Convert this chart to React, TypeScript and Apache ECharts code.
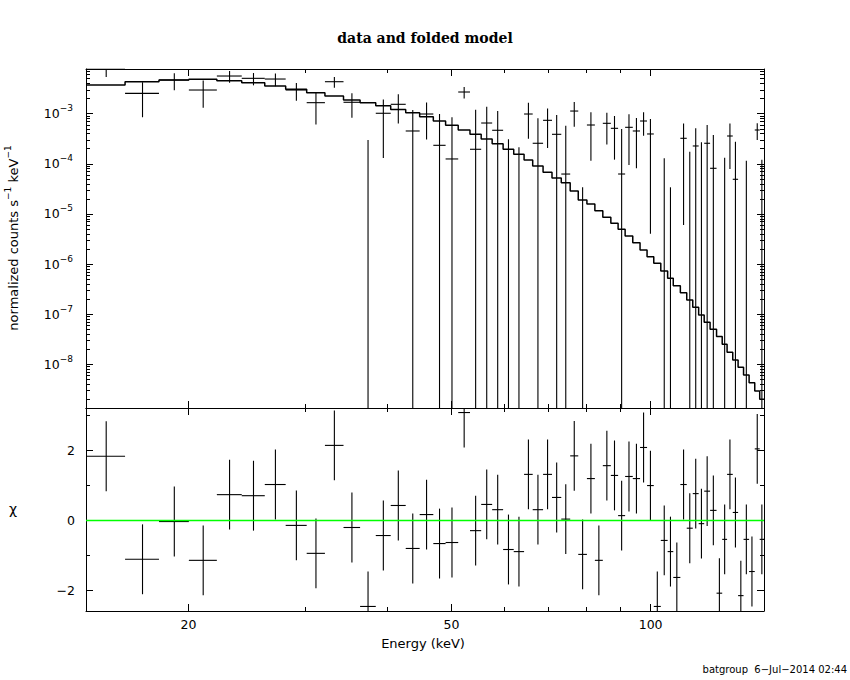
import React, { useEffect, useRef } from "react";
import * as echarts from "echarts";

// ---- data ----
// channel bin edges (keV)
const EDGES = [
  14.0, 16.04, 18.05, 20.03, 22.08, 24.08, 26.09, 28.06, 30.19, 32.17, 34.32, 36.36,
  38.4, 40.45, 42.62, 44.74, 46.92, 48.97, 51.17, 53.31, 55.43, 57.59, 59.83, 62.08,
  64.36, 66.32, 68.76, 70.93, 73.26, 75.57, 77.72, 80.1, 82.35, 84.66, 87.06, 89.29,
  91.5, 93.97, 96.38, 98.76, 101.1, 103.6, 106.1, 108.2, 110.9, 113.4, 115.8, 118.2,
  120.5, 123.0, 125.8, 128.3, 130.5, 133.1, 135.6, 138.2, 140.9, 143.7, 146.2, 148.4,
];
// normalized counts s^-1 keV^-1
const RATE = [
  7.7e-3, 2.55e-3, 4.7e-3, 2.97e-3, 5.65e-3, 5.08e-3, 4.92e-3, 2.97e-3, 1.66e-3, 4.35e-3,
  1.69e-3, -6.33e-4, 1.02e-3, 1.54e-3, 4.52e-4, 9.86e-4, 2.34e-4, 1.25e-4, 2.71e-3, 1.95e-4,
  6.52e-4, 4.67e-4, -3.57e-4, -3.26e-4, 9.86e-4, 2.57e-4, 7.38e-4, 3.88e-4, 6.25e-5, 1.13e-3,
  -4.66e-4, 5.95e-4, -5.36e-4, 6.43e-4, 5.11e-4, 6.26e-5, 5.35e-4, 4.52e-4, 7.15e-4, 3.94e-4,
  -8.6e-4, -1.71e-4, -2.76e-4, -4.9e-4, 3.23e-4, -4.9e-5, 2.27e-4, -2.7e-5, 2.57e-4, 8.14e-5,
  -5.8e-4, -1.55e-4, 3.59e-4, 4.91e-5, -5.6e-4, -1.35e-4, -3.94e-4, 4.73e-4, -1.4e-4,
];
const ERR = [
  2.3e-3, 1.7e-3, 1.75e-3, 1.65e-3, 1.5e-3, 1.4e-3, 1.4e-3, 1.15e-3, 1.05e-3, 1.05e-3,
  8.6e-4, 9.32e-4, 8.9e-4, 9.0e-4, 7.4e-4, 6.8e-4, 7.5e-4, 7.2e-4, 7.0e-4, 1.0e-3,
  7.3e-4, 6.6e-4, 6.65e-4, 5.4e-4, 6.7e-4, 5.5e-4, 5.3e-4, 5.5e-4, 5.13e-4, 5.8e-4,
  5.0e-4, 4.8e-4, 4.8e-4, 4.0e-4, 3.9e-4, 4.3e-4, 4.4e-4, 3.7e-4, 3.5e-4, 3.9e-4,
  3.5e-4, 3.0e-4, 3.1e-4, 3.0e-4, 3.17e-4, 2.24e-4, 2.84e-4, 2.95e-4, 3.4e-4, 2.95e-4,
  2.8e-4, 2.87e-4, 2.8e-4, 2.27e-4, 2.6e-4, 2.5e-4, 2.7e-4, 1.75e-4, 2.6e-4,
];
// folded model per bin
const MODEL = [
  3.74e-3, 4.35e-3, 4.7e-3, 4.86e-3, 4.55e-3, 4.16e-3, 3.57e-3, 3.07e-3, 2.62e-3, 2.25e-3,
  1.88e-3, 1.66e-3, 1.44e-3, 1.22e-3, 1.05e-3, 8.71e-4, 7.15e-4, 5.87e-4, 4.73e-4, 3.88e-4,
  3.13e-4, 2.52e-4, 1.95e-4, 1.55e-4, 1.19e-4, 9.05e-5, 6.78e-5, 5.21e-5, 4.2e-5, 2.87e-5,
  1.9e-5, 1.58e-5, 1.16e-5, 8.57e-6, 6.5e-6, 4.94e-6, 3.63e-6, 2.67e-6, 1.91e-6, 1.4e-6,
  1.04e-6, 7.27e-7, 5.2e-7, 3.7e-7, 2.68e-7, 1.92e-7, 1.37e-7, 9.63e-8, 6.89e-8, 4.99e-8,
  3.56e-8, 2.51e-8, 1.73e-8, 1.22e-8, 8.71e-9, 6.12e-9, 4.3e-9, 2.93e-9, 2.0e-9,
];
// residuals (chi)
const CHI = [
  1.84, -1.11, -0.03, -1.14, 0.74, 0.71, 1.03, -0.14, -0.94, 2.15, -0.2, -2.46, -0.43, 0.43,
  -0.8, 0.17, -0.66, -0.63, 3.09, -0.29, 0.46, 0.31, -0.83, -0.89, 1.32, 0.31, 1.32, 0.66,
  0.04, 1.85, -0.97, 1.2, -1.14, 1.57, 1.29, 0.14, 1.26, 1.2, 2.09, 1.0, -2.46, -0.57, -0.89,
  -1.63, 1.03, -0.22, 0.77, -0.09, 0.84, 0.29, -2.08, -0.54, 1.32, 0.23, -2.15, -0.54, -1.46,
  2.05, -0.54,
];

const X_MIN = 14.0;
const X_MAX = 148.4;
const Y_MIN = 1.34e-9;
const Y_MAX = 7.8e-3;
const CHI_MIN = -2.59;
const CHI_MAX = 3.22;
const X_MAJOR = [20, 50, 100];
const X_MINOR = [30, 40, 60, 70, 80, 90];
const Y_MAJOR_EXP = [-8, -7, -6, -5, -4, -3];
const CHI_MAJOR = [-2, 0, 2];
const CHI_MINOR = [-1, 1, 3];

const lg = Math.log10;
const SANS = '"DejaVu Sans", sans-serif';

function buildOption() {
  const yLo = lg(Y_MIN);
  const yHi = lg(Y_MAX);
  const yMinor: number[] = [];
  for (let n = -10; n <= -2; n++) {
    for (let k = 2; k <= 9; k++) {
      const v = lg(k) + n;
      if (v > yLo && v < yHi) yMinor.push(v);
    }
  }
  const lineStyle = { color: "#000", width: 1 };

  const xAxes = (grid: number, labels: boolean) => {
    const base: any = {
      type: "value",
      gridIndex: grid,
      min: lg(X_MIN),
      max: lg(X_MAX),
      splitLine: { show: false },
      axisLine: { show: false, onZero: false },
      axisLabel: { show: false },
      axisTick: { show: false },
    };
    const major = X_MAJOR.map(lg);
    const minor = X_MINOR.map(lg);
    const out: any[] = [];
    for (const pos of ["bottom", "top"]) {
      out.push({
        ...base,
        position: pos,
        axisLine: { show: true, onZero: false, lineStyle },
        axisTick: { show: true, inside: true, length: 7, customValues: major, lineStyle },
        axisLabel:
          pos === "bottom" && labels
            ? {
                show: true,
                customValues: major,
                margin: 7,
                color: "#000",
                fontSize: 12.5,
                fontFamily: SANS,
                formatter: (v: number) => String(Math.round(Math.pow(10, v))),
              }
            : { show: false },
      });
      out.push({
        ...base,
        position: pos,
        axisTick: { show: true, inside: true, length: 4, customValues: minor, lineStyle },
      });
    }
    return out;
  };

  const yAxes = (
    grid: number,
    min: number,
    max: number,
    major: number[],
    minor: number[],
    label: any
  ) => {
    const base: any = {
      type: "value",
      gridIndex: grid,
      min,
      max,
      splitLine: { show: false },
      axisLine: { show: false, onZero: false },
      axisLabel: { show: false },
      axisTick: { show: false },
    };
    const out: any[] = [];
    for (const pos of ["left", "right"]) {
      out.push({
        ...base,
        position: pos,
        axisLine: { show: true, onZero: false, lineStyle },
        axisTick: { show: true, inside: true, length: 7, customValues: major, lineStyle },
        axisLabel: pos === "left" ? { ...label, customValues: major } : { show: false },
      });
      out.push({
        ...base,
        position: pos,
        axisTick: { show: true, inside: true, length: 4, customValues: minor, lineStyle },
      });
    }
    return out;
  };

  const topLabel = {
    show: true,
    margin: 13,
    color: "#000",
    formatter: (v: number) => `{b|10}{s|\u2212${-Math.round(v)}}`,
    rich: {
      b: { fontSize: 12.5, lineHeight: 20, fontFamily: SANS, color: "#000" },
      s: { fontSize: 9, lineHeight: 10, verticalAlign: "top", fontFamily: SANS, color: "#000" },
    },
  };
  const chiLabel = {
    show: true,
    margin: 11,
    color: "#000",
    fontSize: 12.5,
    fontFamily: SANS,
    formatter: (v: number) => (v < 0 ? "\u2212" + String(-v) : String(v)),
  };

  // model step line (value held across each bin)
  const modelPts: number[][] = MODEL.map((m, i) => [lg(EDGES[i]), lg(m)]);
  modelPts.push([lg(EDGES[EDGES.length - 1]), lg(MODEL[MODEL.length - 1])]);

  const topData = RATE.map((r, i) => [EDGES[i], EDGES[i + 1], r, ERR[i]]);
  const chiData = CHI.map((c, i) => [EDGES[i], EDGES[i + 1], c]);

  const seg = (a: number[], b: number[], w = 1.1) => ({
    type: "line",
    shape: { x1: a[0], y1: a[1], x2: b[0], y2: b[1] },
    style: { stroke: "#000", lineWidth: w },
  });

  const clampY = (v: number) => Math.min(yHi, Math.max(yLo, v));

  return {
    animation: false,
    backgroundColor: "#fff",
    grid: [
      { left: 86, top: 69, width: 678, height: 339 },
      { left: 86, top: 408, width: 678, height: 203 },
    ],
    xAxis: [...xAxes(0, false), ...xAxes(1, true)],
    yAxis: [
      ...yAxes(0, yLo, yHi, Y_MAJOR_EXP, yMinor, topLabel),
      ...yAxes(1, CHI_MIN, CHI_MAX, CHI_MAJOR, CHI_MINOR, chiLabel),
    ],
    series: [
      {
        type: "line",
        xAxisIndex: 0,
        yAxisIndex: 0,
        step: "end",
        data: modelPts,
        symbol: "none",
        silent: true,
        lineStyle: { color: "#000", width: 1.5 },
      },
      {
        type: "custom",
        xAxisIndex: 0,
        yAxisIndex: 0,
        silent: true,
        data: topData,
        renderItem: (_p: any, api: any) => {
          const lo = api.value(0);
          const hi = api.value(1);
          const r = api.value(2);
          const e = api.value(3);
          const xm = lg((lo + hi) / 2);
          const children: any[] = [];
          const up = r + e;
          const dn = r - e;
          if (up > 0) {
            const yt = clampY(lg(up));
            const yb = dn > 0 ? clampY(lg(dn)) : yLo;
            children.push(seg(api.coord([xm, yt]), api.coord([xm, yb])));
          }
          if (r > 0 && lg(r) >= yLo && lg(r) <= yHi) {
            children.push(seg(api.coord([lg(lo), lg(r)]), api.coord([lg(hi), lg(r)])));
          }
          return { type: "group", children };
        },
      },
      {
        type: "custom",
        xAxisIndex: 4,
        yAxisIndex: 4,
        silent: true,
        data: chiData,
        renderItem: (_p: any, api: any) => {
          const lo = api.value(0);
          const hi = api.value(1);
          const c = api.value(2);
          const xm = lg((lo + hi) / 2);
          const cl = (v: number) => Math.min(CHI_MAX, Math.max(CHI_MIN, v));
          const children: any[] = [
            seg(api.coord([xm, cl(c + 1)]), api.coord([xm, cl(c - 1)])),
          ];
          if (c >= CHI_MIN && c <= CHI_MAX) {
            children.push(seg(api.coord([lg(lo), c]), api.coord([lg(hi), c])));
          }
          return { type: "group", children };
        },
      },
      {
        type: "line",
        xAxisIndex: 4,
        yAxisIndex: 4,
        data: [
          [lg(X_MIN), 0],
          [lg(X_MAX), 0],
        ],
        symbol: "none",
        silent: true,
        z: 5,
        lineStyle: { color: "#00ff00", width: 1.5 },
      },
    ],
    graphic: [
      {
        type: "text",
        x: 425,
        y: 38,
        style: {
          text: "data and folded model",
          fill: "#000",
          font: 'bold 14px "DejaVu Serif", serif',
          align: "center",
          verticalAlign: "middle",
        },
      },
      {
        type: "text",
        x: 423,
        y: 643,
        style: {
          text: "Energy (keV)",
          fill: "#000",
          font: '13px "DejaVu Sans", sans-serif',
          align: "center",
          verticalAlign: "middle",
        },
      },
      {
        type: "text",
        x: 13,
        y: 238,
        rotation: Math.PI / 2,
        style: {
          text: "{n|normalized counts s}{s|\u22121}{n| keV}{s|\u22121}",
          fill: "#000",
          align: "center",
          verticalAlign: "middle",
          rich: {
            n: { fontSize: 13, lineHeight: 20, fontFamily: SANS, fill: "#000" },
            s: { fontSize: 9, lineHeight: 10, verticalAlign: "top", fontFamily: SANS, fill: "#000" },
          },
        },
      },
      {
        type: "text",
        x: 13,
        y: 509,
        style: {
          text: "\u03c7",
          fill: "#000",
          font: '14px "DejaVu Sans", sans-serif',
          align: "center",
          verticalAlign: "middle",
        },
      },
      {
        type: "text",
        x: 847,
        y: 669,
        style: {
          text: "batgroup  6\u2212Jul\u22122014 02:44",
          fill: "#000",
          font: '10px "DejaVu Sans", sans-serif',
          align: "right",
          verticalAlign: "middle",
        },
      },
    ],
  };
}

export default function App() {
  const ref = useRef<HTMLDivElement>(null);
  useEffect(() => {
    if (!ref.current) return;
    const chart = echarts.init(ref.current, undefined, { renderer: "svg" });
    chart.setOption(buildOption() as any);
    return () => chart.dispose();
  }, []);
  return (
    <div
      ref={ref}
      style={{ position: "absolute", left: 0, top: 0, width: "850px", height: "680px", background: "#fff" }}
    />
  );
}
